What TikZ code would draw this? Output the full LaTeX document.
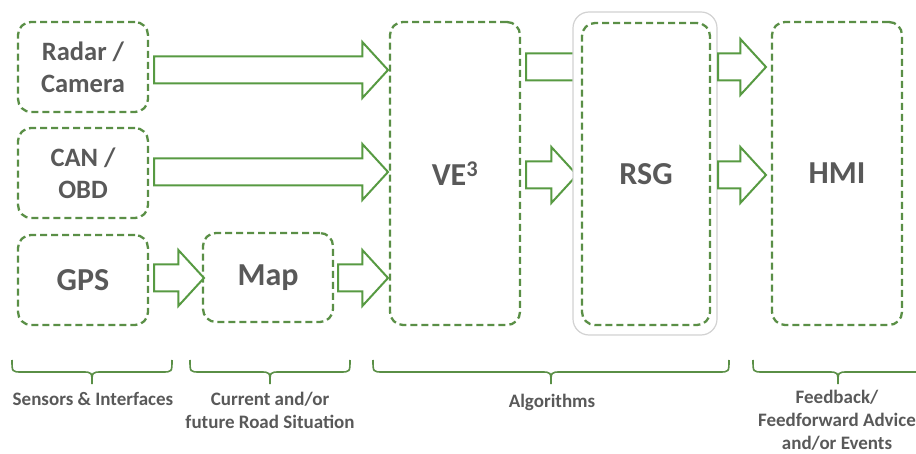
\documentclass[tikz,border=0pt]{standalone}
\usepackage{fontspec}
\setmainfont{Carlito}
\usetikzlibrary{shapes.arrows}
\definecolor{boxgreen}{HTML}{5A8F46}
\definecolor{arrowgreen}{HTML}{579A42}
\definecolor{txtgrey}{HTML}{595959}
\definecolor{framegrey}{HTML}{D2D2D2}
\begin{document}
\begin{tikzpicture}[x=1pt,y=-1pt,
  dbox/.style={draw=boxgreen, line width=2.3pt, dash pattern=on 7pt off 4pt,
    rounded corners=13pt, fill=white, inner sep=0pt, text=txtgrey,
    font=\fontsize{26.5}{32}\selectfont\bfseries, align=center},
  bigtext/.style={font=\fontsize{32}{36}\selectfont\bfseries},
  smallbox/.style={dbox, minimum width=130pt, minimum height=90pt},
  tallbox/.style={dbox, bigtext, minimum width=130pt, minimum height=303pt},
  barrow/.style={single arrow, draw=arrowgreen, line width=2pt, fill=white,
    inner sep=0pt, single arrow head extend=14.5pt,
    single arrow tip angle=95, shape border rotate=0, anchor=tail},
  brc/.style={draw=boxgreen, line width=1.6pt},
  lbl/.style={text=txtgrey, font=\fontsize{19}{23}\selectfont\bfseries,
    align=center, inner sep=0pt}
]
\clip (0,0) rectangle (916,454);
% the strut sets the shaft width of every block arrow
\newcommand{\shaft}{\rule{0pt}{25pt}}

% sources
\node[smallbox] (radar) at (83,67) {Radar /\\Camera};
\node[smallbox] (can) at (83,173) {CAN /\\OBD};
\node[smallbox, bigtext] (gps) at (83,280) {GPS};
\node[smallbox, bigtext, minimum height=89pt] (map) at (268,277.5) {Map};

% algorithm block
\node[tallbox] (ve) at (455,173.5) {VE\textsuperscript{3}};

% block arrows, placed by their tails
\node[barrow, minimum height=234pt] (a1) at (153,70) {\shaft};
\node[barrow, minimum height=234pt] (a2) at (153,172) {\shaft};
\node[barrow, minimum height=50pt] (a3) at (153,278) {\shaft};
\node[barrow, minimum height=50pt] (a4) at (337,278) {\shaft};
\node[barrow, minimum height=75pt] (a5) at (525,67) {\shaft};
\node[barrow, minimum height=51pt] (a6) at (525,175) {\shaft};

% RSG with its light frame (covers the head of the upper arrow)
\node[draw=framegrey, line width=1.2pt, rounded corners=16pt, fill=white,
  minimum width=144pt, minimum height=323pt, inner sep=0pt] (rsgframe) at (645,173.5) {};
\node[dbox, bigtext, minimum width=128pt, minimum height=302pt] (rsg) at (646,174) {RSG};

\node[barrow, minimum height=48pt] (a7) at (717,67) {\shaft};
\node[barrow, minimum height=48pt] (a8) at (717,175) {\shaft};
\node[tallbox] (hmi) at (837,173.5) {HMI};

% braces
\draw[brc] (12,360) .. controls (12,372) .. (22,372) -- (82,372)
  .. controls (92,372) .. (92,384) .. controls (92,372) .. (102,372)
  -- (162,372) .. controls (172,372) .. (172,360);
\draw[brc] (190,360) .. controls (190,372) .. (200,372) -- (260,372)
  .. controls (270,372) .. (270,384) .. controls (270,372) .. (280,372)
  -- (340,372) .. controls (350,372) .. (350,360);
\draw[brc] (373,360) .. controls (373,372) .. (383,372) -- (541,372)
  .. controls (551,372) .. (551,384) .. controls (551,372) .. (561,372)
  -- (719,372) .. controls (729,372) .. (729,360);
\draw[brc] (753,360) .. controls (753,372) .. (763,372) -- (828,372)
  .. controls (838,372) .. (838,384) .. controls (838,372) .. (848,372)
  -- (913,372) .. controls (923,372) .. (923,360);

% group labels
\node[lbl] (l1) at (93,399) {Sensors \& Interfaces};
\node[lbl] (l2) at (270,410.5) {Current and/or\\future Road Situation};
\node[lbl] (l3) at (552,402) {Algorithms};
\node[lbl] (l4) at (837,420.5) {Feedback/\\Feedforward Advice\\and/or Events};
\end{tikzpicture}
\end{document}
